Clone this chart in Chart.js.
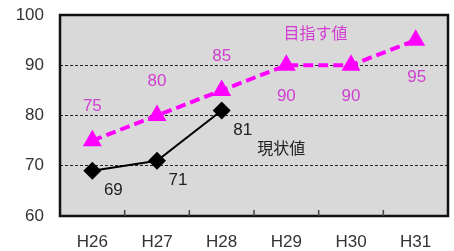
<!DOCTYPE html>
<html lang="ja">
<head>
  <meta charset="UTF-8">
  <title>chart</title>
  <style>
    *{ margin: 0; padding: 0; }
    body{ background: #fff; }
    .chartBox{ width: 454px; height: 251px; }
  </style>
</head>
<body>
  <div class="chartBox">
    <canvas id="myChart"></canvas>
  </div>
  <script src="https://cdn.jsdelivr.net/npm/chart.js"></script>
  <script>
    const years = ['H26', 'H27', 'H28', 'H29', 'H30', 'H31'];
    const targetValues = [75, 80, 85, 90, 90, 95];
    const currentValues = [69, 71, 81, null, null, null];
    const targetLabelSide = ['above', 'above', 'above', 'below', 'below', 'below'];
    const yTicks = [60, 70, 80, 90, 100];
    // series name labels: [text, x index, y value]
    const seriesNotes = [
      ['目指す値', 3.45, 96.4, '#d23cd2'],
      ['現状値', 2.92, 73.6, '#222']
    ];

    const pink = '#ff00ff';
    const pinkText = '#d040d0';
    const font = 'Liberation Sans, Arial, sans-serif';

    // gray plot area + black frame + little inner ticks at bottom
    const plotFrame = {
      id: 'plotFrame',
      beforeDraw(chart){
        const {ctx, chartArea: a} = chart;
        ctx.save();
        ctx.fillStyle = '#d9d9d9';
        ctx.fillRect(a.left, a.top, a.right - a.left, a.bottom - a.top);
        ctx.restore();
      },
      afterDatasetsDraw(chart){
        const {ctx, chartArea: a, scales} = chart;
        ctx.save();
        ctx.strokeStyle = '#111';
        ctx.lineWidth = 2.5;
        ctx.strokeRect(a.left, a.top, a.right - a.left, a.bottom - a.top);
        ctx.lineWidth = 1.5;
        ctx.strokeStyle = '#444';
        for (let i = 0; i < years.length - 1; i++) {
          const x = (scales.x.getPixelForValue(i) + scales.x.getPixelForValue(i + 1)) / 2;
          ctx.beginPath();
          ctx.moveTo(x, a.bottom);
          ctx.lineTo(x, a.bottom - 6);
          ctx.stroke();
        }
        ctx.restore();
      }
    };

    // value labels and series names
    const valueLabels = {
      id: 'valueLabels',
      afterDraw(chart){
        const {ctx, scales} = chart;
        ctx.save();
        ctx.font = '17px ' + font;
        ctx.textAlign = 'center';
        ctx.textBaseline = 'middle';
        targetValues.forEach((v, i) => {
          const x = scales.x.getPixelForValue(i);
          const y = scales.y.getPixelForValue(v);
          ctx.fillStyle = pinkText;
          if (targetLabelSide[i] === 'above') ctx.fillText(v, x, y - 34);
          else if (i === years.length - 1) ctx.fillText(v, x + 1, y + 37);
          else ctx.fillText(v, x, y + 31);
        });
        currentValues.forEach((v, i) => {
          if (v === null) return;
          const x = scales.x.getPixelForValue(i);
          const y = scales.y.getPixelForValue(v);
          ctx.fillStyle = '#222';
          ctx.fillText(v, x + 21, y + 20);
        });
        ctx.font = '16px "Noto Sans CJK JP", sans-serif';
        seriesNotes.forEach(n => {
          ctx.fillStyle = n[3];
          ctx.fillText(n[0], scales.x.getPixelForValue(n[1]), scales.y.getPixelForValue(n[2]));
        });
        ctx.restore();
      }
    };

    const data = {
      labels: years,
      datasets: [{
        label: '目指す値',
        data: targetValues,
        borderColor: pink,
        backgroundColor: pink,
        borderWidth: 4,
        borderDash: [10, 5],
        pointStyle: 'triangle',
        pointRadius: 11,
        pointBorderWidth: 0,
        tension: 0
      }, {
        label: '現状値',
        data: currentValues,
        borderColor: '#000',
        backgroundColor: '#000',
        borderWidth: 2,
        pointStyle: 'rectRot',
        pointRadius: 9,
        pointBorderWidth: 0,
        tension: 0
      }]
    };

    const config = {
      type: 'line',
      data,
      options: {
        responsive: true,
        maintainAspectRatio: false,
        animation: false,
        layout: { autoPadding: false, padding: { top: 15, right: 6, left: 0, bottom: 0 } },
        plugins: {
          legend: { display: false },
          tooltip: { enabled: false }
        },
        scales: {
          x: {
            offset: true,
            grid: { display: false },
            border: { display: false },
            ticks: { color: '#333', font: { family: font, size: 17 }, padding: 8 },
            afterFit(s){ s.height = 35; }
          },
          y: {
            min: 60,
            max: 100,
            afterBuildTicks(s){ s.ticks = yTicks.map(v => ({value: v})); },
            grid: { color: '#222', lineWidth: 1, drawTicks: false },
            border: { display: false, dash: [3, 2] },
            ticks: { color: '#333', font: { family: font, size: 17 }, padding: 16 },
            afterFit(s){ s.width = 60; s.paddingTop = 0; s.paddingBottom = 0; }
          }
        }
      },
      plugins: [plotFrame, valueLabels]
    };

    const myChart = new Chart(document.getElementById('myChart'), config);
  </script>
</body>
</html>
